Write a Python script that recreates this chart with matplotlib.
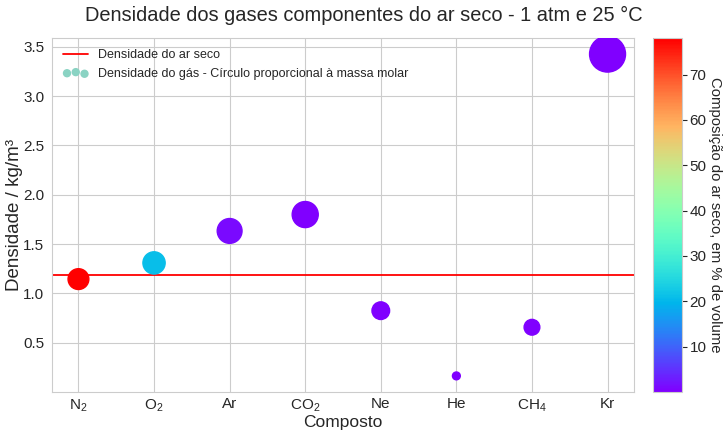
import matplotlib
matplotlib.use("Agg")
import matplotlib.pyplot as plt
import seaborn as sns

compostos = ["N$_2$", "O$_2$", "Ar", "CO$_2$", "Ne", "He", "CH$_4$", "Kr"]
densidade = [1.145, 1.309, 1.633, 1.799, 0.825, 0.164, 0.657, 3.425]
massa_molar = [28.01, 32.00, 39.95, 44.01, 20.18, 4.00, 16.04, 83.80]
composicao = [78.08, 20.95, 0.934, 0.0412, 0.00182, 0.000524, 0.00019, 0.000114]
densidade_ar = 1.184

sns.set_style("whitegrid")
plt.rcParams["font.family"] = ["Liberation Sans", "DejaVu Sans"]
plt.rcParams["mathtext.fontset"] = "custom"
plt.rcParams["mathtext.rm"] = "Liberation Sans"

fig = plt.figure(figsize=(7.28, 4.40), dpi=100)
ax = fig.add_axes([52 / 728, 48 / 440, 582 / 728, 354 / 440])
cax = fig.add_axes([653 / 728, 48 / 440, 29 / 728, 354 / 440])

ax.axhline(densidade_ar, color="red", lw=1.3, label="Densidade do ar seco", zorder=1)
sc = ax.scatter(compostos, densidade, s=[8 * m for m in massa_molar], c=composicao,
                cmap="rainbow", zorder=3)
# proxy para a legenda (três círculos pequenos)
ax.scatter([], [], s=25, color="#8ad3c3",
           label="Densidade do gás - Círculo proporcional à massa molar")

cbar = fig.colorbar(sc, cax=cax)
cbar.set_label("Composição do ar seco, em % de volume", rotation=270, labelpad=11, fontsize=10.7)
cbar.ax.tick_params(labelsize=11, pad=2)
cbar.outline.set_edgecolor("#cccccc")

fig.suptitle("Densidade dos gases componentes do ar seco - 1 atm e 25 °C",
             fontsize=14.4, y=1 - 15 / 440, va="center")
ax.set_xlabel("Composto", fontsize=12.5, labelpad=1)
ax.set_ylabel("Densidade / kg/m³", fontsize=13.5, labelpad=0.5)
ax.set_yticks([0.5, 1.0, 1.5, 2.0, 2.5, 3.0, 3.5])
ax.tick_params(labelsize=11, pad=2)
ax.tick_params(axis="x", pad=0)
ax.legend(loc="upper left", fontsize=9, frameon=False, scatterpoints=3)

fig.savefig("out.png", dpi=100)
